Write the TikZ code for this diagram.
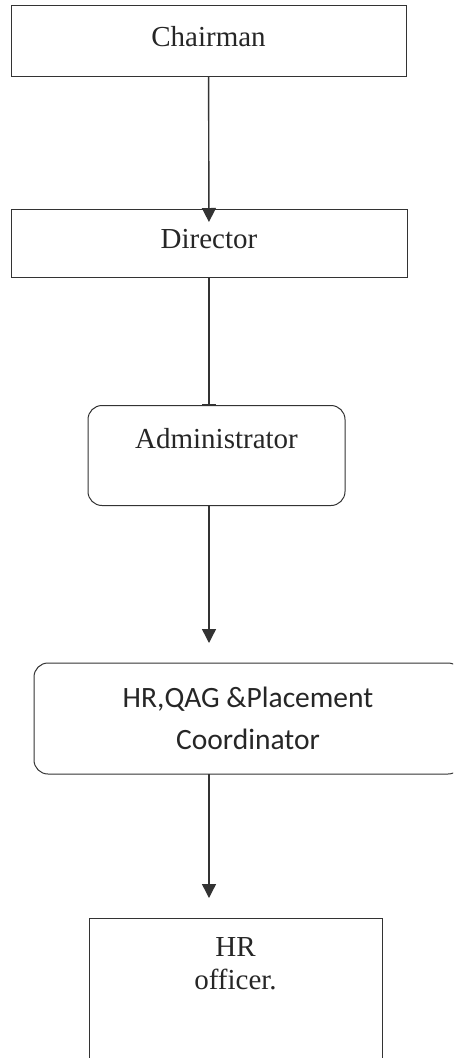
\documentclass[tikz,border=0pt]{standalone}
\usepackage{fontspec}
\setmainfont{Liberation Serif}
\newfontfamily\calibri{Carlito}
\usetikzlibrary{arrows.meta}
\definecolor{ink}{HTML}{333333}

\begin{document}
\begin{tikzpicture}[x=1pt,y=-1pt,every node/.style={inner sep=0,outer sep=0,font=\fontsize{29}{33}\selectfont,text=black!85},
	box/.style={draw=ink,line width=1pt,rectangle},
	rbox/.style={box,rounded corners=14pt},
	arr/.style={draw=ink,line width=1.4pt,-{Triangle[width=14pt,length=14pt]}},
	bararr/.style={draw=ink,line width=1.4pt,-{Bar[width=14pt,line width=2pt]}}]
	\clip (0,0) rectangle (453,1058);
	\node (chair) [box,minimum width=395pt,minimum height=71pt,text height=20pt,text depth=9pt] at (208.5,40.5) {Chairman};
	\node (dir) [box,minimum width=396pt,minimum height=68pt,text height=20pt,text depth=10pt] at (209,243) {Director};
	\node (adm) [rbox,minimum width=257pt,minimum height=100pt,text height=20pt,text depth=35pt] at (216.5,455.5) {Administrator};
	\node (hrq) [rbox,align=center,minimum width=428pt,minimum height=111pt,font=\calibri\fontsize{29.5}{42}\selectfont] at (248,718.5) {HR,QAG \&Placement\\Coordinator};
	\node (hro) [box,align=center,minimum width=293pt,minimum height=162pt,text height=52.5pt,text depth=72.5pt] at (235.5,999) {HR\\officer.};
	\draw[arr,shorten >=-13pt] (chair) -- (dir);
	\draw[bararr] (dir.south) -- (dir.south |- adm.north);
	\draw[arr,shorten >=20pt] (adm.south -| dir.south) -- (dir.south |- hrq.north);
	\draw[arr,shorten >=20pt] (hrq.south -| dir.south) -- (dir.south |- hro.north);
\end{tikzpicture}
\end{document}
